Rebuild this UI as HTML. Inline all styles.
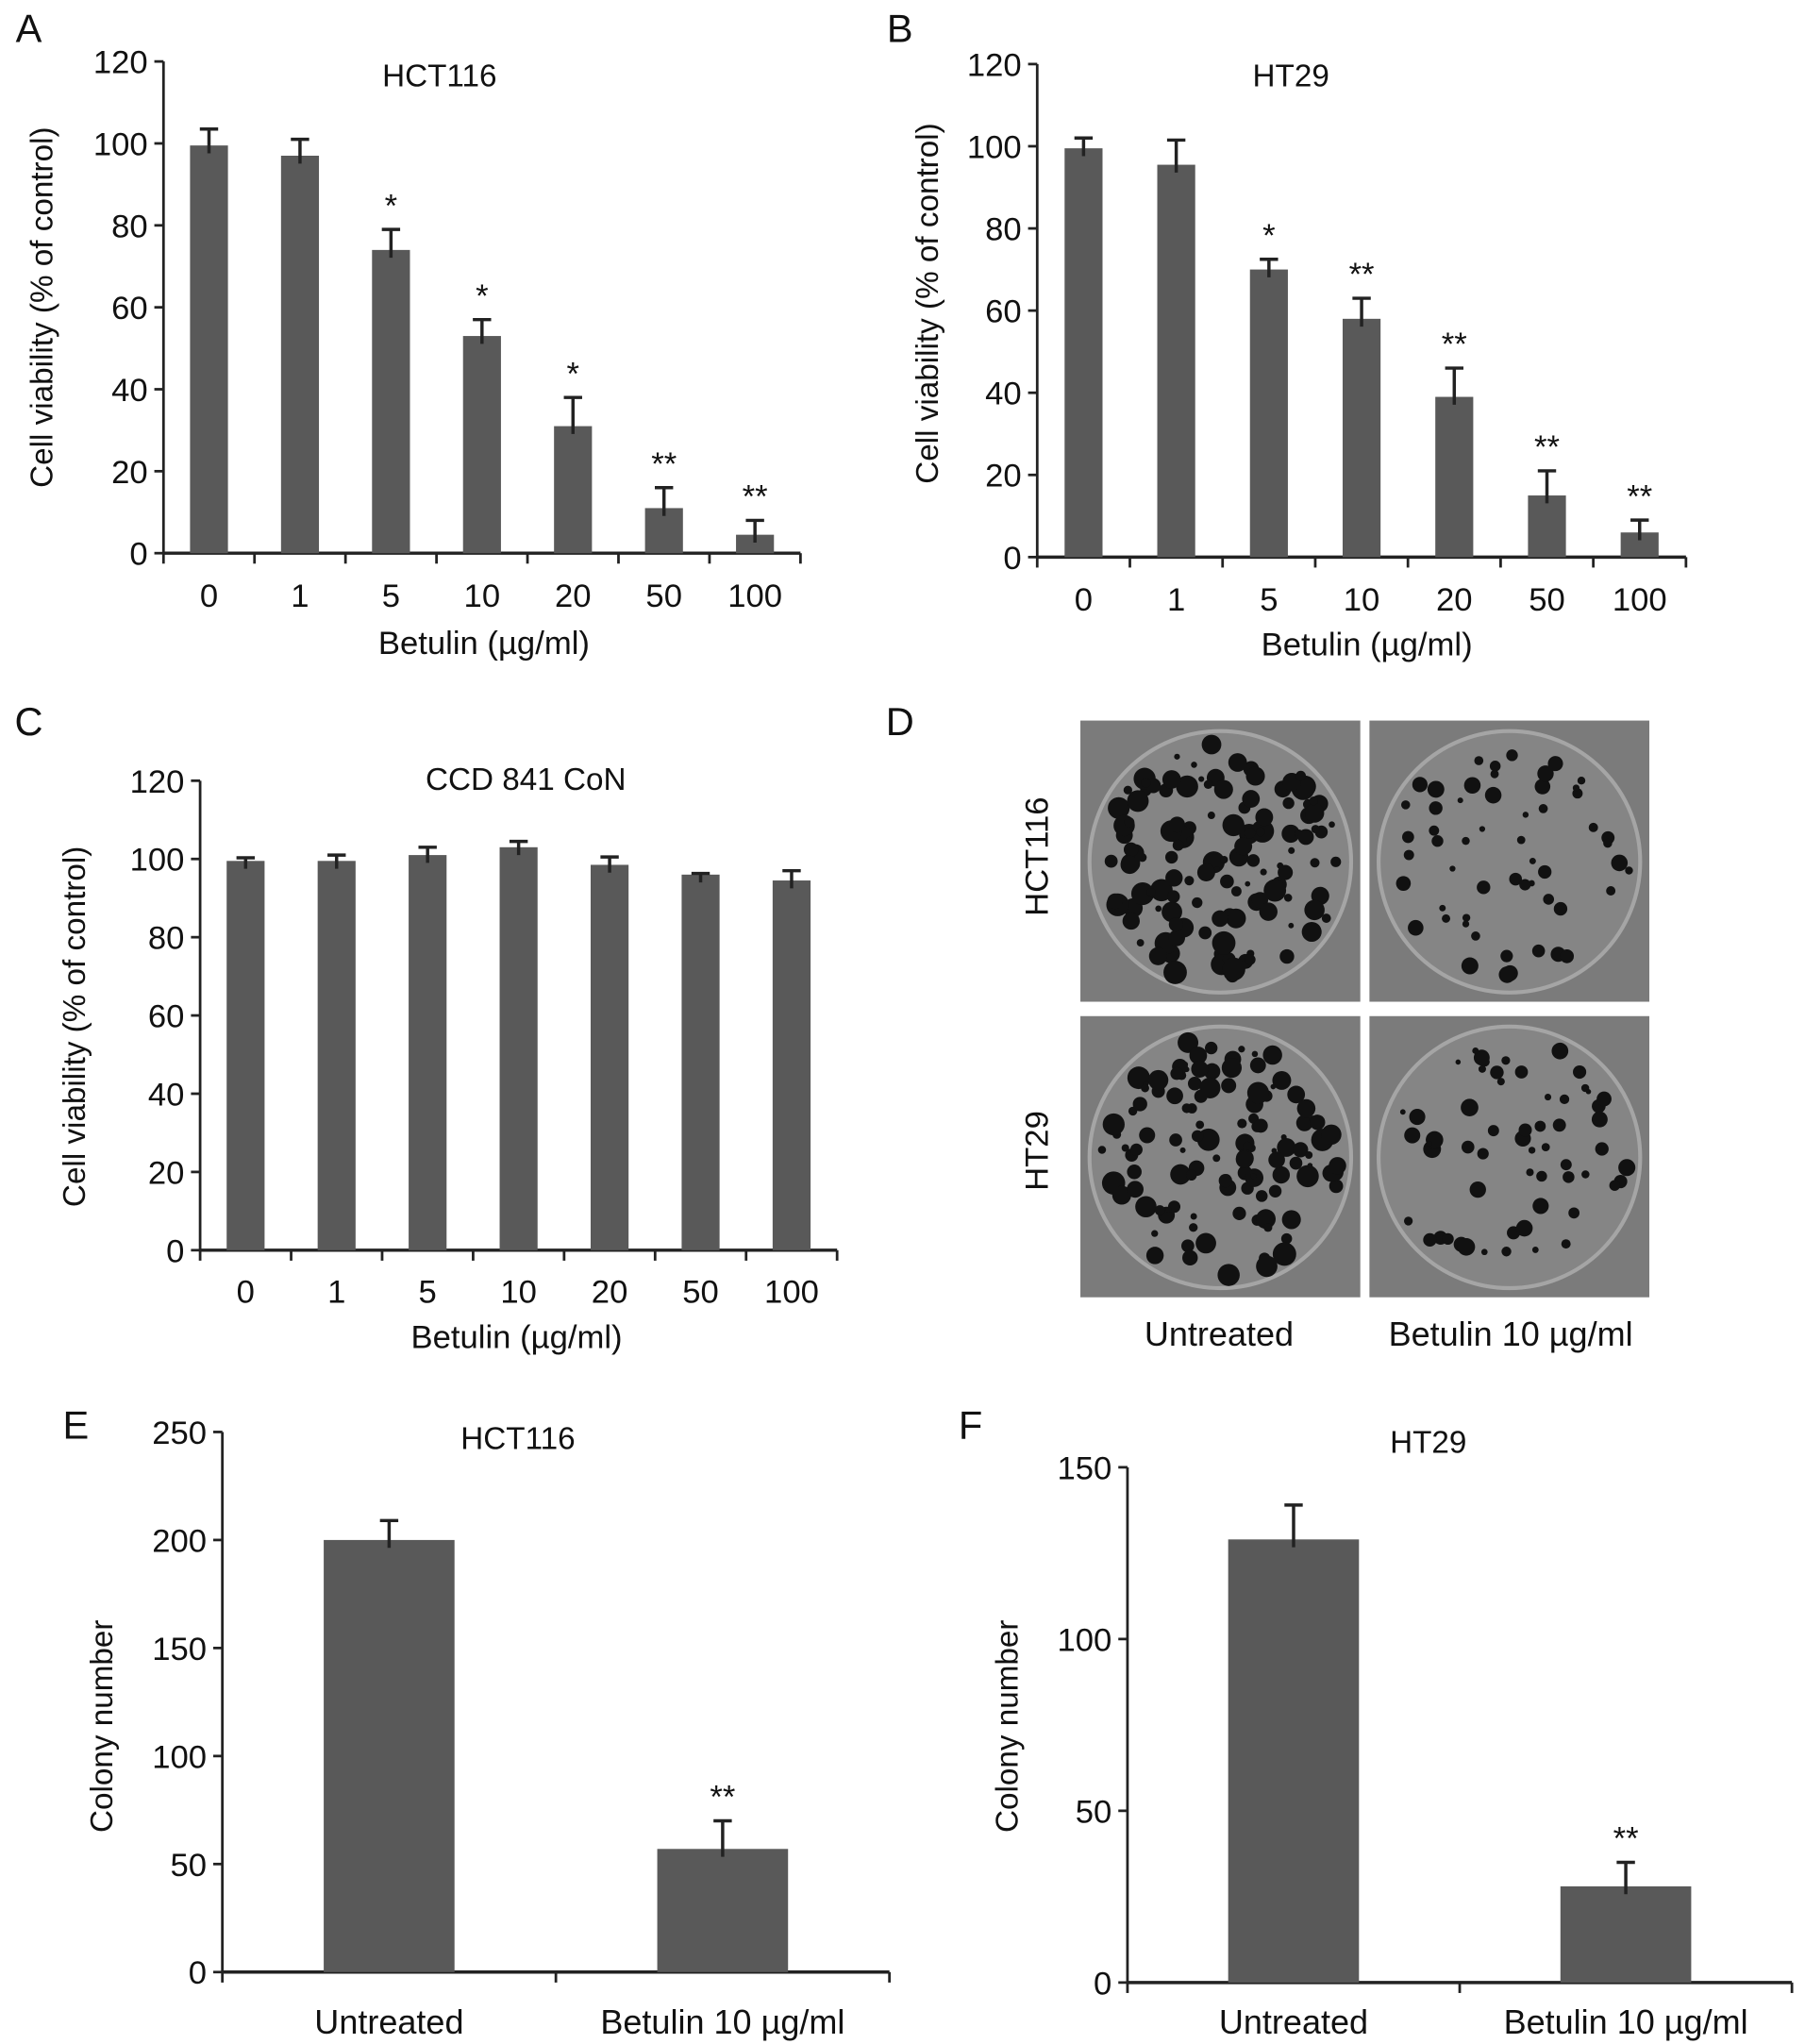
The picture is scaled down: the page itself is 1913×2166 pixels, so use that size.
<!DOCTYPE html>
<html><head><meta charset="utf-8"><style>
html,body{margin:0;padding:0;background:#fff;}
svg{display:block;}
text{font-family:"Liberation Sans Narrow","Liberation Sans",sans-serif;fill:#111;}
</style></head><body>
<svg id="fig" width="1913" height="2166" viewBox="0 0 1380 1563" preserveAspectRatio="none" xmlns="http://www.w3.org/2000/svg"></svg>
<script>
const catsConc = ["0","1","5","10","20","50","100"];
const aVals = [99.5,97,74,53,31,11,4.5];
const aErr = [103.5,101,79,57,38,16,8];
const aStars = ["","","*","*","*","**","**"];
const bVals = [99.5,95.5,70,58,39,15,6];
const bErr = [102,101.5,72.5,63,46,21,9];
const bStars = ["","","*","**","**","**","**"];
const cVals = [99.5,99.5,101,103,98.5,96,94.5];
const cErr = [100.3,101,103,104.5,100.5,96.3,97];
const cStars = ["","","","","","",""];
const catsCol = ["Untreated","Betulin 10 µg/ml"];
const eVals = [200,57];
const eErr = [209,70];
const eStars = ["","**"];
const fVals = [129,28];
const fErr = [139,35];
const fStars = ["","**"];
const ticks120 = [0,20,40,60,80,100,120];
const ticks250 = [0,50,100,150,200,250];
const ticks150 = [0,50,100,150];

const NS="http://www.w3.org/2000/svg";
const svg=document.getElementById('fig');
function mk(tag,attrs,parent){const e=document.createElementNS(NS,tag);for(const k in attrs)e.setAttribute(k,attrs[k]);(parent||svg).appendChild(e);return e;}
function txt(s,x,y,size,parent,anchor,rot){const t=mk('text',{x:x,y:y,'font-size':size,'text-anchor':anchor||'middle'},parent);if(rot)t.setAttribute('transform','rotate(-90 '+x+' '+y+')');t.textContent=s;return t;}

function chart(o){
  const g=mk('g',{});
  
  
  const n=o.cats.length;
  const xr=o.x1-o.x0, step=xr/n;
  const ys=v=>o.y0-(v/o.max)*(o.y0-o.yTop);
  const xs=i=>o.x0+step*(i+0.5);
  const ya=mk('line',{x1:o.x0,y1:o.yTop,x2:o.x0,y2:o.y0,stroke:'#222','stroke-width':2},g);
  
  
  o.ticks.forEach(t=>{
    const y=ys(t);
    mk('line',{x1:o.x0-7,y1:y,x2:o.x0,y2:y,stroke:'#222','stroke-width':2},g);
    const lb=txt(String(t),o.x0-12,y+9,25,g,'end');
    
    
  });
  const xa=mk('line',{x1:o.x0,y1:o.y0,x2:o.x1,y2:o.y0,stroke:'#222','stroke-width':2.5},g);
  
  
  for(let i=0;i<=n;i++){const x=o.x0+step*i;mk('line',{x1:x,y1:o.y0,x2:x,y2:o.y0+8,stroke:'#222','stroke-width':2},g);}
  o.cats.forEach((c,i)=>{
    const x=xs(i);
    const top=ys(o.vals[i]);
    const b=mk('rect',{x:x-o.bw/2,y:top,width:o.bw,height:o.y0-top,fill:'#595959'},g);
    
    
    const et=ys(o.err[i]);
    const e=mk('path',{d:'M'+x+' '+(top+6)+'V'+et+'M'+(x-7)+' '+et+'H'+(x+7),stroke:'#222','stroke-width':2.5,fill:'none'},g);
    
    
    if(o.stars[i]){const s=txt(o.stars[i],x,et-10,25,g);}
    const l=txt(c,x+(o.labOff||0),o.labY,o.labSize||25,g);
    
    
  });
  const ti=txt(o.title,o.titleX,o.titleY,24,g);
  
  
  const yt=txt(o.ytitle,o.ytX,o.ytY,24,g,'middle',true);
  
  
  if(o.xtitle){const xt=txt(o.xtitle,o.xtX,o.xtY,25,g);}
  const pl=txt(o.letter,o.lX,o.lY,30,g,'middle');
  
  
}

chart({name:'chart-a-hct116',cats:catsConc,vals:aVals,err:aErr,stars:aStars,x0:125,x1:612,y0:423,yTop:47,max:120,ticks:ticks120,bw:29,labY:464,title:'HCT116',titleX:336,titleY:66,ytitle:'Cell viability (% of control)',ytX:40,ytY:235,xtitle:'Betulin (µg/ml)',xtX:370,xtY:500,letter:'A',lX:22,lY:32});
chart({name:'chart-b-ht29',cats:catsConc,vals:bVals,err:bErr,stars:bStars,x0:793,x1:1289,y0:426,yTop:49,max:120,ticks:ticks120,bw:29,labY:467,title:'HT29',titleX:987,titleY:66,ytitle:'Cell viability (% of control)',ytX:717,ytY:232,xtitle:'Betulin (µg/ml)',xtX:1045,xtY:501,letter:'B',lX:688,lY:32});
chart({name:'chart-c-ccd841',cats:catsConc,vals:cVals,err:cErr,stars:cStars,x0:153,x1:640,y0:956,yTop:597,max:120,ticks:ticks120,bw:29,labY:996,title:'CCD 841 CoN',titleX:402,titleY:604,ytitle:'Cell viability (% of control)',ytX:65,ytY:785,xtitle:'Betulin (µg/ml)',xtX:395,xtY:1031,letter:'C',lX:22,lY:562});
chart({name:'chart-e-hct116-colonies',cats:catsCol,vals:eVals,err:eErr,stars:eStars,x0:170,x1:680,y0:1508,yTop:1095,max:250,ticks:ticks250,bw:100,labY:1555,labSize:26,title:'HCT116',titleX:396,titleY:1108,ytitle:'Colony number',ytX:86,ytY:1320,letter:'E',lX:58,lY:1100});
chart({name:'chart-f-ht29-colonies',cats:catsCol,vals:fVals,err:fErr,stars:fStars,x0:862,x1:1370,y0:1516,yTop:1122,max:150,ticks:ticks150,bw:100,labY:1555,labSize:26,title:'HT29',titleX:1092,titleY:1111,ytitle:'Colony number',ytX:778,ytY:1320,letter:'F',lX:742,lY:1100});

const gd=mk('g',{});


let seed=7;function rnd(){seed=(seed*16807)%2147483647;return seed/2147483647;}
const plates=[[826,551,130],[1047,551,55],[826,777,120],[1047,777,60]];
plates.forEach(p=>{
  const [x,y,nd]=p;
  const r=mk('rect',{x:x,y:y,width:214,height:215,fill:'#7b7b7b'},gd);
  
  
  mk('circle',{cx:x+107,cy:y+108,r:100,fill:'#858585',stroke:'#a5a5a5','stroke-width':3},gd);
  for(let k=0;k<nd;k++){const a=rnd()*6.283,d=Math.sqrt(rnd())*92;mk('circle',{cx:x+107+Math.cos(a)*d,cy:y+108+Math.sin(a)*d,r:2+rnd()*(nd>80?7:5),fill:'#111'},gd);}
});
[['HCT116',801,655],['HT29',801,880]].forEach(l=>{const t=txt(l[0],l[1],l[2],25,gd,'middle',true);});
[['Untreated',932,1029],['Betulin 10 µg/ml',1155,1029]].forEach(l=>{const t=txt(l[0],l[1],l[2],26,gd);});
const dl=txt('D',688,562,30,gd);


</script>
</body></html>
